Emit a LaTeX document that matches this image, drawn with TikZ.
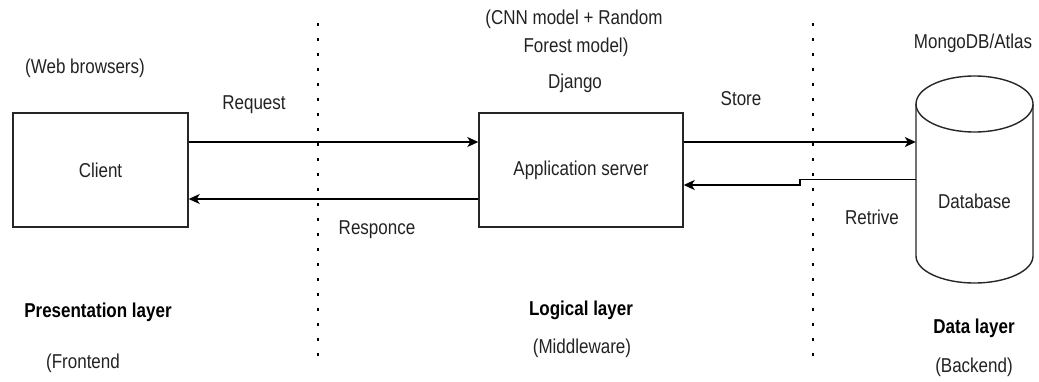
\documentclass[tikz,border=0pt]{standalone}
\usepackage{fontspec}
\usepackage{graphicx}
\setmainfont{Liberation Sans}
\usetikzlibrary{arrows.meta}
\definecolor{ink}{HTML}{222222}
\newcommand{\tl}[1]{\scalebox{1}[1.18]{#1}}
\begin{document}
\begin{tikzpicture}[x=1pt,y=-1pt,
  txt/.style={font=\fontsize{17}{20}\selectfont, text=ink, inner sep=0pt},
  boldtxt/.style={font=\fontsize{17}{20}\selectfont\bfseries, text=black, inner sep=0pt},
  boxnode/.style={draw=black!85, line width=1.4pt, fill=white, font=\fontsize{17}{20}\selectfont, text=ink},
  arr/.style={draw=black, line width=1.4pt, -{Stealth[length=11pt,width=10pt,inset=3pt]}},
  sep/.style={draw=black, line width=2.8pt, dash pattern=on 2.8pt off 12.2pt}
]
\useasboundingbox (0,0) rectangle (1039,381);
% separators
\draw[sep] (318,23) -- (318,360);
\draw[sep] (813,23) -- (813,360);
% boxes
\node[boxnode, minimum width=175pt, minimum height=114pt] (client) at (100.5,170) {\tl{Client}};
\node[boxnode, minimum width=204pt, minimum height=114pt] (app) at (581,170) {\tl{Application server}};
% database cylinder
\node[minimum width=117pt, minimum height=207pt, inner sep=0pt] (db) at (974.5,179.5) {};
\draw[draw=black!85, line width=1.4pt, fill=white]
  (916,104) -- (916,256)
  .. controls (916,270.9) and (942.2,283) .. (974.5,283)
  .. controls (1006.8,283) and (1033,270.9) .. (1033,256)
  -- (1033,104);
\draw[draw=black!85, line width=1.4pt, fill=white] (974.5,104) ellipse [x radius=58.5, y radius=28];
\node[txt] (dbl) at (db.center) [yshift=-22pt] {\tl{Database}};
% connectors
\draw[arr] ([yshift=28pt]client.east) -- ([yshift=28pt]app.west);
\draw[arr] ([yshift=-29pt]app.west) -- ([yshift=-29pt]client.east);
\draw[arr] ([yshift=28pt]app.east) -- ([yshift=28pt]app.east -| db.west);
\draw[arr] (db.west) -- ++(-116,0) |- ([yshift=-15pt]app.east);
% labels
\node[txt] (web) at (85,68) {\tl{(Web browsers)}};
\node[txt] (req) at (254,105) {\tl{Request}};
\node[boldtxt] (pres) at (98,312) {\tl{Presentation layer}};
\node[txt] (front) at (83,363) {\tl{(Frontend}};
\node[txt] (resp) at (377,230) {\tl{Responce}};
\node[txt] (cnn1) at (574,19) {\tl{(CNN model + Random}};
\node[txt] (cnn2) at (576,47) {\tl{Forest model)}};
\node[txt] (django) at (575,83) {\tl{Django}};
\node[boldtxt] (logic) at (581,310) {\tl{Logical layer}};
\node[txt] (mid) at (582,348) {\tl{(Middleware)}};
\node[txt] (store) at (741,99) {\tl{Store}};
\node[txt] (mongo) at (973,43) {\tl{MongoDB/Atlas}};
\node[txt] (retr) at (872,217) {\tl{Retrive}};
\node[boldtxt] (datal) at (974,328) {\tl{Data layer}};
\node[txt] (back) at (974,367) {\tl{(Backend)}};
\end{tikzpicture}
\end{document}
